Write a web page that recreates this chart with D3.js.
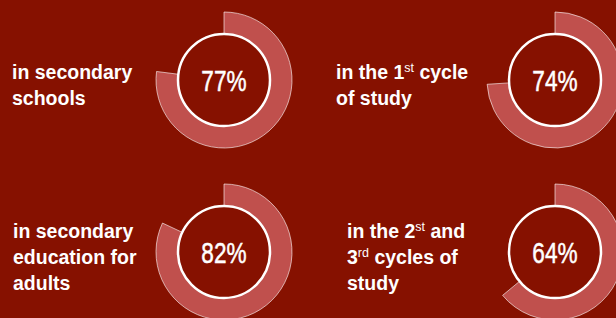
<!DOCTYPE html>
<html lang="en">
  <head>
    <meta charset="UTF-8" />
    <title>Share of students</title>
    <script src="https://d3js.org/d3.v7.min.js"></script>
    <style>
      body {
        margin: 0;
        background: #861100;
      }
      svg text {
        fill: #ffffff;
      }
      .label {
        font-family: "Liberation Sans", Arial, sans-serif;
        font-weight: bold;
        font-size: 19.5px;
      }
      .pct {
        font-family: "Liberation Sans", Arial, sans-serif;
        font-size: 29px;
        stroke: #ffffff;
        stroke-width: 0.5px;
      }
    </style>
  </head>
  <body>
    <svg id="chart" width="616" height="318"></svg>

    <script>
      // chart values
      const categories = [
        "in secondary schools",
        "in the 1st cycle of study",
        "in secondary education for adults",
        "in the 2st and 3rd cycles of study"
      ];
      const values = [77, 74, 82, 64];

      // label lines, each line is a list of [text, isSuperscript]
      const labelLines = [
        [[["in secondary", false]], [["schools", false]]],
        [[["in the 1", false], ["st", true], [" cycle", false]], [["of study", false]]],
        [[["in secondary", false]], [["education for", false]], [["adults", false]]],
        [[["in the 2", false], ["st", true], [" and", false]], [["3", false], ["rd", true], [" cycles of", false]], [["study", false]]]
      ];

      const svg = d3.select("#chart");

      // 2 x 2 grid of donuts
      const col = d3.scalePoint().domain([0, 1]).range([224, 555]);
      const row = d3.scalePoint().domain([0, 1]).range([80, 252]);
      const labelX = [[12, 336], [13, 347]];
      const firstBaseline = [79, 237.5];
      const lineH = 26.3;

      const angle = d3.scaleLinear().domain([0, 100]).range([0, 2 * Math.PI]);
      const arc = d3.arc().innerRadius(46).outerRadius(68);

      const cells = svg
        .selectAll(".cell")
        .data(values)
        .enter()
        .append("g")
        .attr("class", "cell")
        .attr("transform", (d, i) => `translate(${col(i % 2)},${row(Math.floor(i / 2))})`);

      cells
        .append("path")
        .attr("d", (d) => arc({ startAngle: 0, endAngle: angle(d) }))
        .attr("fill", "#c0504d")
        .attr("stroke", "rgba(255,255,255,0.75)")
        .attr("stroke-width", 0.8);

      cells
        .append("circle")
        .attr("r", 46)
        .attr("fill", "#861100")
        .attr("stroke", "#ffffff")
        .attr("stroke-width", 2.5);

      // narrow look for the percentages
      cells
        .append("text")
        .attr("class", "pct")
        .attr("text-anchor", "middle")
        .attr("transform", "scale(0.78,1)")
        .attr("y", 11)
        .text((d) => d + "%");

      // labels to the left of each donut
      labelLines.forEach((lines, i) => {
        const r = Math.floor(i / 2);
        const c = i % 2;
        const x = labelX[r][c];
        const t = svg.append("text").attr("class", "label");
        lines.forEach((parts, li) => {
          parts.forEach((p, pi) => {
            const ts = t.append("tspan").text(p[0]);
            if (pi === 0) ts.attr("x", x).attr("y", firstBaseline[r] + li * lineH);
            if (p[1]) ts.attr("font-size", "12.5px").attr("font-weight", "normal").attr("dy", -7);
            else if (pi > 0 && parts[pi - 1][1]) ts.attr("dy", 7);
          });
        });
      });
    </script>
  </body>
</html>
